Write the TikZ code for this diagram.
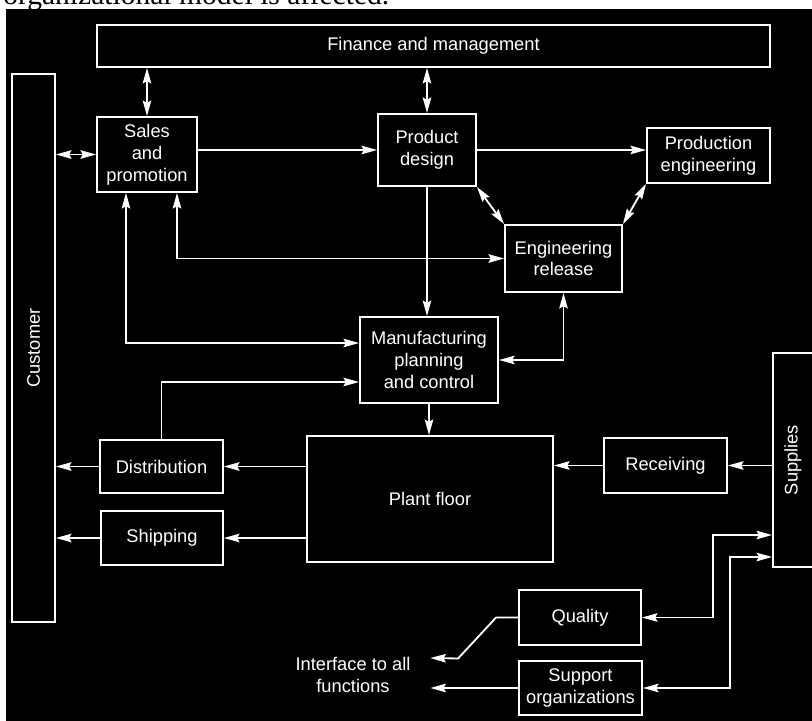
\documentclass[tikz,border=0pt]{standalone}
\usepackage{fontspec}
\setmainfont{Liberation Sans}
\newfontfamily\bookfont{Liberation Serif}
\usepackage{graphicx}
\usepackage{tikz}
\usetikzlibrary{positioning, calc, arrows.meta}

\tikzset{
  unit/.style={draw=white, fill=black, text=white, line width=1.3pt, align=center,
    inner sep=0pt, font=\fontsize{13}{15.6}\selectfont},
  note/.style={text=white, align=center, inner xsep=0.49cm, inner ysep=0pt,
    font=\fontsize{13}{15.6}\selectfont},
  flow/.style={draw=white, line width=1.3pt, ->},
  >={Stealth[length=11pt, width=6pt, inset=1.5pt]}
}

\begin{document}
\begin{tikzpicture}[x=0.025cm, y=-0.025cm]
  \useasboundingbox (0,0) rectangle (812,721);
  \clip (0,0) rectangle (812,721);
  % Page
  \fill[white] (0,0) rectangle (812,721);
  \begin{scope}
    \clip (0,0) rectangle (812,9);
    \node[anchor=base west, inner sep=0pt, font=\bookfont\fontsize{21}{25}\selectfont]
      (caption) at (3,4.5) {organizational model is affected.};
  \end{scope}
  \fill[black] (6,9) rectangle (812,721);

  % Units
  \node[unit, minimum width=16.825cm, minimum height=1.05cm] (fin) at (433.5,46) {Finance and management};
  \node[unit, minimum width=1.075cm, minimum height=13.7cm] (cust) at (33.5,348) {\rotatebox{90}{Customer}};
  \node[unit, minimum width=2.5cm, minimum height=1.875cm] (sales) at (147,154.5) {Sales\\and\\promotion};
  \node[unit, minimum width=2.45cm, minimum height=1.8cm] (prod) at (427,150) {Product\\design};
  \node[unit, minimum width=3.075cm, minimum height=1.375cm] (peng) at (708.5,155.5) {Production\\engineering};
  \node[unit, minimum width=2.925cm, minimum height=1.675cm] (erel) at (563.5,258.5) {Engineering\\release};
  \node[unit, minimum width=3.45cm, minimum height=2.15cm] (mpc) at (429,360) {Manufacturing\\planning\\and control};
  \node[unit, minimum width=6.15cm, minimum height=3.15cm] (plant) at (430,499) {Plant floor};
  \node[unit, minimum width=3.075cm, minimum height=1.325cm] (dist) at (161.5,466.5) {Distribution};
  \node[unit, minimum width=3.05cm, minimum height=1.35cm] (ship) at (162,538) {Shipping};
  \node[unit, minimum width=3.075cm, minimum height=1.375cm] (recv) at (665.5,465.5) {Receiving};
  \node[unit, minimum width=1.0cm, minimum height=5.35cm] (supp) at (793,460) {\rotatebox{90}{Supplies}};
  \node[unit, minimum width=3.05cm, minimum height=1.375cm] (qual) at (580,617.5) {Quality};
  \node[unit, minimum width=3.075cm, minimum height=1.35cm] (sup) at (580.5,688) {Support\\organizations};
  \node[note] (iface) at (353,675) {Interface to all\\functions};

  % Office links
  \draw[flow, <->] (sales.north) -- (sales.north |- fin.south);
  \draw[flow, <->] (prod.north) -- (prod.north |- fin.south);
  \draw[flow, <->] (sales.west) -- (sales.west -| cust.east);
  \draw[flow] (prod.west -| sales.east) -- (prod.west);
  \draw[flow] (prod.east) -- (prod.east -| peng.west);
  \draw[flow, <->] (prod.south east) -- (erel.north west);
  \draw[flow, <->] (peng.south west) -- (erel.north east);
  \draw[flow] (prod.south) -- (prod.south |- mpc.north);
  \draw[flow, <->] ($(sales.south)+(30,0)$) |- (erel.west);
  \draw[flow, <->] ($(sales.south)+(-21,0)$) |- ($(mpc.west)+(0,-17)$);
  \draw[flow] (dist.north) |- ($(mpc.west)+(0,22)$);
  \draw[flow, <->] (erel.south) |- (mpc.east);
  \draw[flow] (mpc.south) -- (mpc.south |- plant.north);

  % Shop floor
  \draw[flow] (dist.east -| plant.west) -- (dist.east);
  \draw[flow] (ship.east -| plant.west) -- (ship.east);
  \foreach \n in {dist, ship}
    \draw[flow] (\n.west) -- (\n.west -| cust.east);
  \draw[flow] (recv.west) -- (recv.west -| plant.east);
  \draw[flow] (recv.east -| supp.west) -- (recv.east);

  % Quality and support
  \draw[flow, <->] (qual.east) -- ++(71,0) |- ($(supp.west)+(0,75)$);
  \draw[flow, <->] (sup.east) -- ++(87,0) |- ($(supp.west)+(0,97)$);
  \draw[flow] (qual.west) -- ++(-22,0) -- ++(-38,41) -- ($(iface.east)+(0,-17)$);
  \draw[flow] (sup.west) -- (sup.west -| iface.east);
\end{tikzpicture}
\end{document}
